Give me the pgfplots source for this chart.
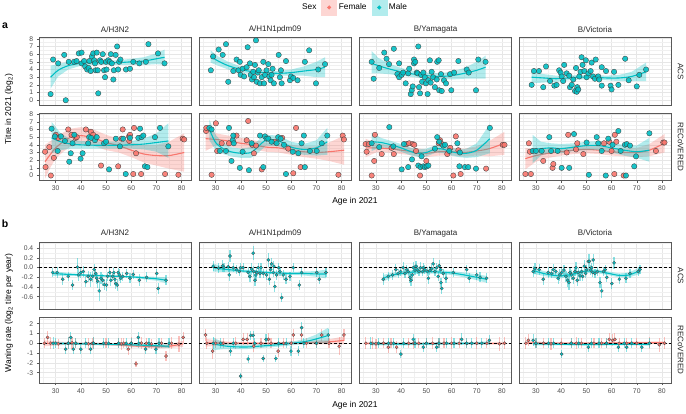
\documentclass[border=0pt]{standalone}
\usepackage{fontspec}
\setmainfont{Liberation Sans}
\usepackage{pgfplots}
\pgfplotsset{compat=1.18}
\definecolor{cF}{HTML}{F8766D}
\definecolor{cM}{HTML}{00BFC4}
\definecolor{gmaj}{HTML}{E6E6E6}
\definecolor{gmin}{HTML}{F0F0F0}
\pgfplotsset{
  panel/.style={scale only axis, width=152pt, xmin=23.4, xmax=83.7,
    xtick={30,40,50,60,70,80}, minor xtick={25,35,45,55,65,75},
    xmajorgrids, ymajorgrids, xminorgrids, yminorgrids,
    major grid style={draw=gmaj, line width=0.6pt},
    minor grid style={draw=gmin, line width=0.35pt},
    axis line style={draw=black!65, line width=0.6pt},
    tick align=outside, tickpos=left, major tick length=2.2pt, minor tick length=0pt,
    tick style={draw=black!65, line width=0.5pt},
    ticklabel style={font=\fontsize{6.8}{7.5}\selectfont, text=black!70},
    /pgf/number format/assume math mode=true, anchor=north west},
  rowA/.style={height=67.3pt, ymin=-0.62, ymax=8.14, ytick={0,1,2,3,4,5,6,7,8},
    minor ytick={0.5,1.5,2.5,3.5,4.5,5.5,6.5,7.5}},
  rowC/.style={height=66.3pt, ymin=-0.855, ymax=0.516, ytick={-0.6,-0.4,-0.2,0,0.2,0.4},
    minor ytick={-0.7,-0.5,-0.3,-0.1,0.1,0.3,0.5},
    yticklabel style={/pgf/number format/.cd, fixed, fixed zerofill, precision=1}},
  rowD/.style={height=66pt, ymin=-4.05, ymax=2.68, ytick={-3,-2,-1,0,1,2},
    minor ytick={-3.5,-2.5,-1.5,-0.5,0.5,1.5,2.5}},
  nox/.style={xticklabels={}, xtick style={draw=none}},
  noy/.style={yticklabels={}, ytick style={draw=none}},
  pA/.style={only marks, mark=*, mark size=2.7pt, mark options={fill=#1, draw=black!75, line width=0.35pt, fill opacity=0.9}},
  pB/.style={#1, only marks, mark=*, mark size=1.6pt, mark options={fill=#1, draw=black!70, line width=0.3pt},
    error bars/.cd, y dir=both, y explicit, error mark=none, error bar style={draw=#1, line width=1.2pt, opacity=0.45}},
  rib/.style={fill=#1, fill opacity=0.3, draw=none},
  sm/.style={#1, line width=1.1pt, smooth, no marks},
  zero/.style={black, dashed, line width=0.6pt, dash pattern=on 3pt off 2pt, no marks},
}
\begin{document}
\begin{tikzpicture}
\useasboundingbox (0,0) rectangle (686pt,-413pt);
% ---------------- Row 1 : ACS titres ----------------
\begin{axis}[panel, rowA, nox, at={(39pt,-37.7pt)},
  legend style={at={(2.076,1.449)}, anchor=center, draw=none, fill=none, legend columns=-1,
    font=\fontsize{8.3}{9}\selectfont, /tikz/every even column/.append style={column sep=3pt}}]
\addlegendimage{empty legend}\addlegendentry{Sex}
\addlegendimage{legend image code/.code={\fill[cF!30] (0pt,-7.5pt) rectangle (15pt,7.5pt); \fill[cF] (7.5pt,0pt) circle (1.8pt);}}\addlegendentry{Female}
\addlegendimage{legend image code/.code={\fill[cM!30] (0pt,-7.5pt) rectangle (15pt,7.5pt); \fill[cM] (7.5pt,0pt) circle (1.8pt);}}\addlegendentry{Male}
\addplot[pA=cM] coordinates {(28,0.8)(29,5.3)(31,4.8)(33.4,5.9)(34,0)(35.2,5.0)(37.3,5.0)(38.3,5.1)(39.2,6.1)(40.3,6.2)(40.3,4.8)(41.3,5.1)(41.7,4.4)(42.5,4.0)(43.1,4.2)(43.4,5.1)(43.9,3.8)(44.4,5.7)(44.9,6.1)(45.3,5.2)(45.6,4.8)(45.9,3.9)(46.3,6.2)(46.7,3.9)(46.9,0.9)(47.6,5.2)(48.1,5.0)(48.7,6.0)(49.2,3.9)(49.6,3.0)(50,5.0)(50.2,4.0)(50.9,5.2)(51.5,5.0)(51.9,6.0)(52.3,4.8)(52.9,2.7)(53.1,3.9)(53.8,5.9)(54.4,7.0)(54.8,4.0)(55.2,5.0)(55.7,5.3)(57.9,4.0)(59.5,4.1)(60.8,5.0)(63.2,4.8)(65.8,5.0)(66.8,7.3)(70.6,6.1)(73.2,4.8)};
\addplot[rib=cM] coordinates {(28,4.5)(31,4.7)(35,5.0)(40,5.1)(45,5.2)(50,5.2)(55,5.2)(60,5.4)(65,5.6)(70,6.1)(73.2,6.6)(73.2,4.6)(70,4.7)(65,4.6)(60,4.6)(55,4.6)(50,4.6)(45,4.6)(40,4.5)(35,4.0)(31,3.1)(28,1.5)} -- cycle;
\addplot[sm=cM] coordinates {(28,3.0)(31,3.9)(35,4.5)(40,4.8)(45,4.9)(50,4.9)(55,4.9)(60,5.0)(65,5.1)(70,5.4)(73.2,5.6)};
\end{axis}
\begin{axis}[panel, rowA, nox, noy, at={(199pt,-37.7pt)}]
\addplot[pA=cM] coordinates {(28.1,3.9)(29,5.7)(31.2,6.6)(32.8,5.9)(34.1,7.3)(35,2.4)(37,3.8)(38.3,5.3)(39.1,3.9)(39.6,5.0)(39.9,3.3)(40.7,4.1)(41.3,3.1)(42.3,4.3)(42.7,6.9)(43.6,4.8)(43.9,3.3)(44.4,2.7)(44.9,3.7)(45.2,3.0)(45.6,4.6)(46,7.8)(46.3,2.4)(46.7,3.6)(47.1,3.9)(47.6,2.2)(48.3,3.0)(48.9,5.0)(49.2,2.2)(49.6,3.3)(50.2,3.9)(50.9,4.7)(51.3,3.1)(51.8,2.6)(52.2,3.3)(52.6,4.1)(53.1,2.2)(55,5.9)(55.5,3.0)(55.9,3.9)(56.2,2.2)(57.9,5.1)(59.5,2.6)(59.9,3.1)(60.8,2.9)(62.5,2.6)(65.4,5.0)(67.1,6.5)(69.8,2.2)(70.7,4.0)(73.4,4.7)};
\addplot[rib=cM] coordinates {(28,6.5)(31,5.7)(35,5.0)(40,4.4)(45,4.0)(50,3.9)(55,3.8)(60,4.0)(65,4.4)(70,5.0)(73.4,5.6)(73.4,3.0)(70,3.0)(65,3.2)(60,3.2)(55,3.2)(50,3.3)(45,3.4)(40,3.6)(35,4.0)(31,4.5)(28,4.9)} -- cycle;
\addplot[sm=cM] coordinates {(28,5.7)(31,5.1)(35,4.5)(40,4.0)(45,3.7)(50,3.6)(55,3.5)(60,3.6)(65,3.8)(70,4.0)(73.4,4.3)};
\end{axis}
\begin{axis}[panel, rowA, nox, noy, at={(359.3pt,-37.7pt)}]
\addplot[pA=cM] coordinates {(28.3,5.0)(29.1,2.8)(31.3,4.2)(33.3,6.2)(34.2,5.4)(35.2,4.7)(37.1,6.7)(38.5,3.4)(39.2,4.8)(39.2,3.0)(40.2,3.3)(40.8,3.6)(41.8,2.2)(42.8,3.5)(43.2,4.1)(43.8,0.8)(44.2,1.3)(44.6,1.8)(45.1,5.3)(45.1,4.8)(45.6,5.0)(46.2,3.6)(46.5,3.5)(46.8,7.0)(47.1,1.7)(47.5,0.9)(47.9,3.3)(48.3,2.4)(48.8,3.6)(49.4,3.0)(49.8,2.2)(50.5,0.8)(50.8,2.6)(51.4,5.2)(51.7,2.3)(52.1,3.7)(52.7,3.0)(53.4,1.7)(54.1,2.7)(54.3,5.0)(54.9,5.2)(55.1,1.3)(55.8,3.4)(56.1,1.2)(57,2.6)(57.8,2.2)(59.4,3.4)(59.9,1.3)(61,3.6)(62.7,5.1)(66,4.0)(66.8,3.6)(69.7,1.3)(70.6,5.3)(73.5,5.0)};
\addplot[rib=cM] coordinates {(28.3,6.4)(31,5.5)(35,4.8)(40,4.2)(45,3.8)(50,3.6)(55,3.5)(60,3.7)(65,4.2)(70,5.0)(73.5,5.8)(73.5,2.8)(70,2.8)(65,2.8)(60,2.7)(55,2.7)(50,2.8)(45,3.0)(40,3.2)(35,3.4)(31,3.5)(28.3,3.5)} -- cycle;
\addplot[sm=cM] coordinates {(28.3,4.8)(31,4.5)(35,4.1)(40,3.7)(45,3.4)(50,3.2)(55,3.1)(60,3.2)(65,3.5)(70,3.9)(73.5,4.3)};
\end{axis}
\begin{axis}[panel, rowA, nox, noy, at={(519.3pt,-37.7pt)}]
\addplot[pA=cM] coordinates {(28.3,2.0)(29.2,3.8)(31.2,3.8)(32.9,1.7)(34,4.4)(35.6,2.5)(37.3,1.9)(38.2,2.0)(39.2,3.9)(39.8,3.6)(40.2,3.1)(40.8,2.5)(41.2,4.6)(42.2,3.5)(43.2,3.2)(43.5,1.7)(44.2,2.0)(44.8,2.7)(45.5,1.2)(45.9,4.2)(46.2,1.1)(46.4,1.7)(46.8,1.4)(47.2,3.1)(47.7,3.7)(48.1,5.6)(48.5,4.6)(49.2,3.8)(49.8,5.2)(50.1,3.0)(50.8,3.5)(51.7,3.8)(52.1,4.9)(52.7,3.1)(53.4,2.8)(53.7,5.3)(54.7,3.1)(55.1,2.7)(56.1,4.3)(56.1,1.9)(57.8,3.8)(59.6,1.9)(60,1.4)(61,3.7)(62.7,2.0)(65.4,5.4)(66.8,2.6)(70,1.8)(71,3.3)(73.7,4.0)};
\addplot[rib=cM] coordinates {(28.3,3.8)(33,3.4)(38,3.2)(43,3.2)(48,3.3)(53,3.3)(58,3.2)(63,3.3)(68,3.7)(73.7,4.9)(73.7,2.5)(68,2.5)(63,2.5)(58,2.6)(53,2.7)(48,2.7)(43,2.6)(38,2.4)(33,2.3)(28.3,2.2)} -- cycle;
\addplot[sm=cM] coordinates {(28.3,3.0)(33,2.9)(38,2.8)(43,2.9)(48,3.0)(53,3.0)(58,2.9)(63,2.9)(68,3.1)(73.7,3.7)};
\end{axis}
% ---------------- Row 2 : RECoVERED titres ----------------
\begin{axis}[panel, rowA, at={(39pt,-113pt)}]
\addplot[pA=cF] coordinates {(26,1.1)(25.8,3.1)(27.5,3.7)(28.1,0)(29.3,2.3)(30.1,5.3)(31,4.9)(35,6.0)(36.3,5.3)(37.9,4.9)(38.4,5.0)(42,6.0)(44,5.7)(44.9,5.3)(48,1.3)(54.8,1.2)(56.2,4.8)(56.6,6.0)(59.1,5.1)(59.2,4.5)(59.5,5.3)(60.8,0.2)(61.1,6.2)(61.9,2.9)(63.9,0.2)(73.4,0.2)(78.7,0.1)(80.4,4.8)(81,4.7)};
\addplot[pA=cM] coordinates {(28.4,6.1)(29.7,5.1)(30.8,3.2)(32.1,5.1)(33.7,4.5)(35.4,1.8)(36,2.9)(36.7,4.2)(37.4,5.3)(39.9,2.2)(40.7,2.9)(42.9,4.2)(43.3,5.0)(44.1,4.9)(45.6,4.6)(46.3,5.0)(49.2,4.2)(50,4.4)(51.2,0.8)(53.9,4.8)(55.5,3.8)(56.8,4.8)(57.8,0.2)(59.5,4.9)(62.8,4.9)(63.5,6.1)(64.1,5.0)(64.8,5.2)(65.4,1.2)(66.4,1.1)(69.4,5.0)(71.4,6.2)(74.7,3.8)};
\addplot[rib=cF] coordinates {(25.8,4.0)(28,4.5)(30,5.0)(33,5.6)(36,6.1)(40,6.3)(45,6.0)(50,5.3)(55,4.8)(60,4.3)(65,4.0)(70,4.0)(75,4.4)(81,5.5)(81,0.5)(75,0.9)(70,1.3)(65,1.7)(60,2.4)(55,3.0)(50,3.3)(45,3.9)(40,4.1)(36,3.8)(33,3.1)(30,2.2)(28,1.1)(25.8,-0.4)} -- cycle;
\addplot[sm=cF] coordinates {(25.8,1.8)(28,2.8)(30,3.6)(33,4.4)(36,5.0)(40,5.2)(45,4.9)(50,4.3)(55,3.9)(60,3.3)(65,2.8)(70,2.6)(75,2.6)(81,3.0)};
\addplot[rib=cM] coordinates {(28.4,7.0)(32,5.5)(36,4.7)(40,4.5)(45,4.4)(50,4.4)(55,4.4)(60,4.5)(65,4.8)(70,5.5)(74.7,6.8)(74.7,2.3)(70,3.1)(65,3.4)(60,3.5)(55,3.5)(50,3.5)(45,3.5)(40,3.5)(36,3.5)(32,3.3)(28.4,2.9)} -- cycle;
\addplot[sm=cM] coordinates {(28.4,4.9)(32,4.4)(36,4.1)(40,4.0)(45,3.95)(50,3.95)(55,3.95)(60,4.0)(65,4.1)(70,4.3)(74.7,4.5)};
\end{axis}
\begin{axis}[panel, rowA, noy, at={(199pt,-113pt)}]
\addplot[pA=cF] coordinates {(26.2,5.8)(26.3,6.2)(28.4,0.1)(30.1,6.8)(30.6,3.2)(32.4,4.2)(35.3,4.2)(38.3,5.2)(42.3,4.6)(42.9,7.1)(44.5,4.0)(45.2,2.9)(46,3.9)(48.3,0.8)(53.5,4.4)(56.4,4.9)(58.8,3.5)(60.8,0.3)(61.9,6.2)(63.7,1.1)(78.7,0.1)(80.4,5.2)(80.9,4.7)};
\addplot[pA=cM] coordinates {(27.5,6.2)(28.4,6.0)(31.7,3.2)(34.1,3.2)(35.3,6.2)(36.3,1.9)(36.8,4.6)(37,5.2)(37.2,4.2)(39.6,1.0)(40.7,3.1)(43.2,0.7)(44.3,4.2)(47.6,5.2)(48.9,1.1)(49.6,5.1)(50.2,4.8)(50.9,4.8)(52.2,4.4)(54.2,4.2)(54.8,5.0)(55.8,4.8)(57.1,4.0)(57.9,0.2)(60.6,3.1)(62.8,2.9)(64.1,4.2)(65,5.2)(65.4,1.1)(67.4,3.2)(70.1,3.2)(72.1,4.2)(74.3,5.2)};
\addplot[rib=cF] coordinates {(26,6.3)(30,5.5)(35,5.2)(40,4.9)(45,4.6)(50,4.3)(55,4.2)(60,4.0)(65,3.8)(70,3.8)(75,4.3)(81,5.2)(81,1.4)(75,1.9)(70,2.2)(65,2.4)(60,2.7)(55,3.0)(50,3.1)(45,3.4)(40,3.5)(35,3.8)(30,3.9)(26,3.2)} -- cycle;
\addplot[sm=cF] coordinates {(26,4.8)(30,4.7)(35,4.5)(40,4.2)(45,4.0)(50,3.7)(55,3.6)(60,3.3)(65,3.1)(70,3.0)(75,3.1)(81,3.3)};
\addplot[rib=cM] coordinates {(27.5,7.3)(30,5.3)(33,4.2)(36,3.7)(40,3.5)(44,3.7)(47,4.6)(50,5.3)(55,5.2)(60,4.4)(65,4.1)(70,4.6)(74.3,6.2)(74.3,2.7)(70,2.6)(65,2.7)(60,3.0)(55,3.8)(50,3.9)(47,3.0)(44,2.3)(40,2.3)(36,2.5)(33,2.8)(30,3.3)(27.5,4.6)} -- cycle;
\addplot[sm=cM] coordinates {(27.5,6.0)(30,4.3)(33,3.5)(36,3.1)(40,2.9)(44,3.0)(47,3.8)(50,4.6)(55,4.5)(60,3.7)(65,3.4)(70,3.6)(74.3,4.4)};
\end{axis}
\begin{axis}[panel, rowA, noy, at={(359.3pt,-113pt)}]
\addplot[pA=cF] coordinates {(25.9,4.1)(26.3,3.1)(27.2,4.1)(28.3,0)(29.3,1.9)(29.6,5.3)(32.3,2.8)(36.2,3.6)(37.1,2.8)(42.2,4.1)(43.2,4.2)(44.6,4.1)(45.2,4.0)(45.9,3.2)(47.5,0)(50,1.9)(54.9,4.2)(55.4,4.6)(56.1,4.1)(58.3,2.8)(59.5,3.6)(60.7,0)(61.7,5.1)(62.7,3.3)(63.6,0.2)(73.7,0.9)(80.3,4.0)(81,4.0)};
\addplot[pA=cM] coordinates {(28.3,4.2)(31.3,3.7)(35.3,6.3)(36.9,3.8)(40.2,0.8)(41.1,4.1)(42.8,1.1)(44.3,2.1)(46.8,1.3)(47.7,1.1)(48.1,2.5)(48.8,1.2)(49.4,1.1)(50.1,1.2)(50.8,1.3)(53.4,3.5)(54.3,5.0)(55.1,4.4)(56.7,3.9)(57.4,4.0)(59.1,3.2)(62.3,4.2)(63.1,1.2)(63.3,3.0)(65.3,1.1)(66.6,1.1)(69.7,0.9)(75.2,6.2)};
\addplot[rib=cF] coordinates {(25.9,4.8)(30,4.2)(35,4.0)(40,3.8)(45,3.6)(50,3.4)(55,3.6)(60,3.6)(65,3.5)(70,3.8)(75,4.5)(81,5.7)(81,2.7)(75,2.5)(70,2.6)(65,2.5)(60,2.6)(55,2.6)(50,2.4)(45,2.6)(40,2.8)(35,3.0)(30,3.0)(25.9,2.4)} -- cycle;
\addplot[sm=cF] coordinates {(25.9,3.6)(30,3.6)(35,3.5)(40,3.3)(45,3.1)(50,2.9)(55,3.1)(60,3.1)(65,3.0)(70,3.2)(75,3.5)(81,4.2)};
\addplot[rib=cM] coordinates {(28.3,5.6)(32,4.9)(36,4.5)(40,4.1)(44,3.6)(47,3.4)(50,3.5)(54,4.0)(57,3.9)(60,3.6)(63,3.4)(66,3.5)(70,4.2)(75.2,6.7)(75.2,2.9)(70,2.4)(66,2.3)(63,2.4)(60,2.6)(57,2.9)(54,3.0)(50,2.5)(47,2.4)(44,2.6)(40,3.1)(36,3.5)(32,3.7)(28.3,3.2)} -- cycle;
\addplot[sm=cM] coordinates {(28.3,4.4)(32,4.3)(36,4.0)(40,3.6)(44,3.1)(47,2.9)(50,3.0)(54,3.5)(57,3.4)(60,3.1)(63,2.9)(66,2.9)(70,3.3)(75.2,4.8)};
\end{axis}
\begin{axis}[panel, rowA, noy, at={(519.3pt,-113pt)}]
\addplot[pA=cF] coordinates {(25.8,0.2)(27.2,4.2)(27.6,3.1)(28,0.2)(32.9,1.9)(36.6,1.0)(36.9,1.5)(42.2,3.0)(42.8,5.3)(45.9,3.4)(46.4,4.2)(48.8,2.8)(57,4.2)(59.1,4.4)(60,3.2)(61.1,0.2)(61.3,5.3)(61.9,4.4)(64.8,0.0)(77.6,3.2)(80.5,4.3)(81,4.3)};
\addplot[pA=cM] coordinates {(28.7,3.2)(30,3.2)(32.3,3.2)(35.3,5.0)(36,3.2)(38.6,3.2)(40.2,1.0)(43.2,1.0)(45.1,5.4)(50.1,4.3)(51,0.1)(54.1,5.0)(54.7,4.2)(56.1,3.2)(57.7,0)(58.7,4.8)(60.4,4.0)(62.7,5.8)(63.6,3.2)(65.3,4.0)(65.7,0)(66,4.1)(67.3,3.9)(69,1.2)(69.7,2.5)(75,5.5)};
\addplot[rib=cF] coordinates {(25.8,3.6)(30,3.4)(35,3.5)(40,3.6)(45,3.8)(50,3.9)(55,3.8)(60,3.6)(65,3.5)(70,3.6)(75,4.1)(81,5.4)(81,3.0)(75,2.5)(70,2.4)(65,2.5)(60,2.6)(55,2.8)(50,2.9)(45,2.8)(40,2.6)(35,2.3)(30,1.8)(25.8,0.8)} -- cycle;
\addplot[sm=cF] coordinates {(25.8,2.2)(30,2.6)(35,2.9)(40,3.1)(45,3.3)(50,3.4)(55,3.3)(60,3.1)(65,3.0)(70,3.0)(75,3.3)(81,4.2)};
\addplot[rib=cM] coordinates {(28.7,5.3)(32,4.4)(36,4.2)(40,4.1)(45,4.2)(50,4.4)(55,4.5)(60,4.2)(65,4.0)(70,3.9)(75,4.9)(75,1.8)(70,2.3)(65,2.6)(60,3.0)(55,3.3)(50,3.3)(45,3.2)(40,2.9)(36,3.0)(32,2.6)(28.7,1.6)} -- cycle;
\addplot[sm=cM] coordinates {(28.7,3.4)(32,3.5)(36,3.6)(40,3.5)(45,3.7)(50,3.9)(55,3.9)(60,3.6)(65,3.3)(70,3.1)(75,3.3)};
\end{axis}
% ---------------- Row 3 : ACS waning ----------------
\begin{axis}[panel, rowC, nox, at={(39pt,-242.7pt)}]
\addplot[pB=cM] table[row sep=\\, y error=e] {x y e\\ 28.8 -0.10 0.10\\ 30.6 -0.10 0.12\\ 32.8 -0.24 0.12\\ 35 -0.18 0.10\\ 36.7 -0.36 0.10\\ 38.7 0.01 0.20\\ 39.2 -0.15 0.12\\ 40 -0.10 0.12\\ 41 -0.08 0.12\\ 42 -0.29 0.12\\ 42.9 -0.18 0.12\\ 43.9 -0.24 0.15\\ 44.7 -0.18 0.12\\ 45.3 -0.04 0.12\\ 45.9 -0.12 0.10\\ 46.3 -0.22 0.12\\ 46.7 -0.28 0.15\\ 47.3 -0.48 0.20\\ 48 -0.22 0.12\\ 48.7 -0.26 0.12\\ 49.3 -0.35 0.12\\ 50.2 -0.36 0.12\\ 50.6 -0.18 0.10\\ 51.5 -0.10 0.10\\ 51.9 -0.26 0.12\\ 52.6 -0.18 0.10\\ 53.1 -0.10 0.10\\ 53.5 -0.24 0.12\\ 53.9 -0.33 0.12\\ 54.4 -0.36 0.12\\ 54.8 -0.10 0.10\\ 55.2 -0.15 0.12\\ 55.8 -0.22 0.10\\ 56.6 -0.18 0.10\\ 58.2 -0.12 0.10\\ 59.5 -0.22 0.10\\ 60.8 -0.14 0.10\\ 63.2 -0.26 0.12\\ 66.1 -0.20 0.10\\ 70.1 -0.12 0.10\\ 70.7 -0.43 0.12\\ 73.8 -0.26 0.10\\};
\addplot[rib=cM] coordinates {(28.8,-0.07)(35,-0.11)(40,-0.13)(45,-0.14)(50,-0.15)(55,-0.16)(60,-0.17)(65,-0.18)(70,-0.19)(73.8,-0.20)(73.8,-0.32)(70,-0.27)(65,-0.24)(60,-0.21)(55,-0.20)(50,-0.19)(45,-0.18)(40,-0.17)(35,-0.17)(28.8,-0.17)} -- cycle;
\addplot[sm=cM] coordinates {(28.8,-0.12)(35,-0.14)(40,-0.15)(45,-0.16)(50,-0.17)(55,-0.18)(60,-0.19)(65,-0.21)(70,-0.23)(73.8,-0.26)};
\addplot[zero] coordinates {(23.4,0)(83.7,0)};
\end{axis}
\begin{axis}[panel, rowC, nox, noy, at={(199pt,-242.7pt)}]
\addplot[pB=cM] table[row sep=\\, y error=e] {x y e\\ 29 0.03 0.10\\ 31.2 -0.01 0.10\\ 32.8 0.04 0.12\\ 33.3 0.0 0.10\\ 35 0.02 0.10\\ 35.4 -0.15 0.12\\ 35.7 0.24 0.12\\ 37 0.0 0.10\\ 38.3 -0.04 0.10\\ 39.4 -0.08 0.10\\ 39.9 0.0 0.10\\ 40.9 0.0 0.10\\ 42.9 -0.10 0.12\\ 43.6 -0.18 0.12\\ 44.3 -0.03 0.12\\ 44.9 0.30 0.15\\ 45.1 -0.08 0.12\\ 45.6 -0.26 0.12\\ 46 -0.15 0.10\\ 46.3 -0.10 0.10\\ 46.9 0.0 0.10\\ 47.6 -0.12 0.10\\ 48 0.0 0.10\\ 48.9 -0.12 0.10\\ 50.2 -0.15 0.10\\ 50.9 0.16 0.15\\ 51.3 -0.24 0.12\\ 51.8 -0.04 0.10\\ 52.2 0.08 0.12\\ 52.9 -0.10 0.10\\ 53.1 0.03 0.10\\ 53.5 -0.39 0.12\\ 54.2 -0.15 0.10\\ 55 0.0 0.10\\ 55.5 -0.08 0.10\\ 56.2 -0.62 0.10\\ 56.8 -0.15 0.10\\ 57.9 -0.24 0.10\\ 59.5 -0.18 0.10\\ 60.8 0.0 0.10\\ 63.2 -0.36 0.10\\ 64.1 -0.10 0.10\\ 70.1 -0.10 0.10\\ 71.1 -0.24 0.10\\ 73.8 -0.10 0.10\\};
\addplot[rib=cM] coordinates {(29,0.08)(33,0.03)(37,-0.01)(41,-0.04)(45,-0.05)(50,-0.07)(55,-0.08)(60,-0.09)(65,-0.08)(70,-0.07)(73.8,-0.04)(73.8,-0.22)(70,-0.19)(65,-0.16)(60,-0.15)(55,-0.14)(50,-0.13)(45,-0.11)(41,-0.10)(37,-0.09)(33,-0.09)(29,-0.08)} -- cycle;
\addplot[sm=cM] coordinates {(29,0.0)(33,-0.03)(37,-0.05)(41,-0.07)(45,-0.08)(50,-0.10)(55,-0.11)(60,-0.12)(65,-0.12)(70,-0.13)(73.8,-0.13)};
\addplot[zero] coordinates {(23.4,0)(83.7,0)};
\end{axis}
\begin{axis}[panel, rowC, nox, noy, at={(359.3pt,-242.7pt)}]
\addplot[pB=cM] table[row sep=\\, y error=e] {x y e\\ 32.9 -0.24 0.12\\ 34.9 -0.18 0.10\\ 36.6 -0.15 0.10\\ 37.9 -0.04 0.12\\ 38.8 -0.12 0.10\\ 39.8 -0.08 0.10\\ 40.8 0.0 0.12\\ 41.5 -0.12 0.10\\ 42.2 -0.04 0.10\\ 42.8 -0.08 0.10\\ 43.5 -0.20 0.12\\ 43.9 -0.26 0.12\\ 44.4 -0.15 0.10\\ 44.8 0.0 0.12\\ 45.5 -0.05 0.10\\ 45.9 0.03 0.10\\ 46.4 -0.04 0.10\\ 47.1 -0.08 0.10\\ 47.7 0.0 0.12\\ 48.5 -0.08 0.10\\ 48.8 0.0 0.10\\ 49.4 -0.04 0.10\\ 50.4 -0.08 0.10\\ 50.8 -0.22 0.12\\ 51.4 -0.06 0.10\\ 52.1 -0.02 0.10\\ 52.7 0.08 0.12\\ 53.4 -0.08 0.10\\ 54.1 0.0 0.10\\ 54.7 -0.18 0.10\\ 55.1 0.04 0.12\\ 55.7 -0.04 0.10\\ 55.8 -0.31 0.10\\ 56.1 -0.43 0.12\\ 56.7 -0.12 0.10\\ 57.8 -0.22 0.10\\ 60.7 -0.10 0.10\\ 66 -0.04 0.10\\ 67 -0.22 0.10\\ 70 -0.15 0.10\\ 71.3 -0.20 0.10\\ 73.9 -0.22 0.10\\};
\addplot[rib=cM] coordinates {(32.9,-0.15)(36,-0.11)(40,-0.08)(45,-0.05)(50,-0.04)(55,-0.05)(60,-0.07)(65,-0.10)(70,-0.14)(73.9,-0.17)(73.9,-0.31)(70,-0.26)(65,-0.20)(60,-0.15)(55,-0.13)(50,-0.12)(45,-0.13)(40,-0.16)(36,-0.21)(32.9,-0.29)} -- cycle;
\addplot[sm=cM] coordinates {(32.9,-0.22)(36,-0.16)(40,-0.12)(45,-0.09)(50,-0.08)(55,-0.09)(60,-0.11)(65,-0.15)(70,-0.20)(73.9,-0.24)};
\addplot[zero] coordinates {(23.4,0)(83.7,0)};
\end{axis}
\begin{axis}[panel, rowC, nox, noy, at={(519.3pt,-242.7pt)}]
\addplot[pB=cM] table[row sep=\\, y error=e] {x y e\\ 28.9 -0.08 0.12\\ 29.6 -0.02 0.12\\ 31.3 -0.04 0.12\\ 32.9 -0.24 0.12\\ 34.9 -0.10 0.12\\ 36.2 -0.12 0.10\\ 36.9 -0.04 0.12\\ 37.9 -0.08 0.10\\ 38.8 -0.22 0.12\\ 39.5 -0.15 0.12\\ 40.2 -0.10 0.10\\ 41.1 -0.05 0.10\\ 41.9 -0.18 0.12\\ 42.6 -0.26 0.15\\ 43.1 -0.31 0.15\\ 43.5 -0.10 0.10\\ 44.2 -0.15 0.10\\ 44.8 -0.22 0.12\\ 45.5 -0.08 0.10\\ 45.9 0.0 0.12\\ 46.4 -0.26 0.12\\ 46.8 -0.10 0.10\\ 47.5 -0.17 0.10\\ 48.1 -0.08 0.10\\ 48.5 -0.18 0.10\\ 49.2 0.03 0.12\\ 49.7 -0.12 0.10\\ 50.1 -0.04 0.10\\ 50.8 0.13 0.15\\ 51.2 0.13 0.15\\ 51.7 -0.05 0.10\\ 52.1 0.0 0.10\\ 52.5 -0.10 0.10\\ 52.7 0.16 0.12\\ 53.4 -0.12 0.10\\ 54.4 -0.08 0.10\\ 55.4 -0.31 0.12\\ 56.1 -0.48 0.15\\ 56.8 -0.08 0.10\\ 57.5 -0.04 0.10\\ 58.1 -0.20 0.10\\ 60.1 -0.33 0.12\\ 61 0.10 0.12\\ 63.1 -0.24 0.10\\ 65.7 -0.22 0.10\\ 67.3 -0.12 0.10\\ 70.6 -0.08 0.10\\ 71.3 -0.04 0.10\\};
\addplot[rib=cM] coordinates {(28.9,0.01)(33,-0.07)(37,-0.11)(40,-0.12)(44,-0.10)(48,-0.05)(51,-0.03)(55,-0.04)(59,-0.08)(63,-0.12)(67,-0.10)(71.3,0.01)(71.3,-0.13)(67,-0.20)(63,-0.20)(59,-0.16)(55,-0.12)(51,-0.11)(48,-0.13)(44,-0.18)(40,-0.22)(37,-0.21)(33,-0.17)(28.9,-0.13)} -- cycle;
\addplot[sm=cM] coordinates {(28.9,-0.06)(33,-0.12)(37,-0.16)(40,-0.17)(44,-0.14)(48,-0.09)(51,-0.07)(55,-0.08)(59,-0.12)(63,-0.16)(67,-0.15)(71.3,-0.06)};
\addplot[zero] coordinates {(23.4,0)(83.7,0)};
\end{axis}
% ---------------- Row 4 : RECoVERED waning ----------------
\begin{axis}[panel, rowD, at={(39pt,-317pt)}]
\addplot[pB=cF] table[row sep=\\, y error=e] {x y e\\ 25.5 0 0.5\\ 26.8 0.6 0.7\\ 28 0.0 0.6\\ 31 -0.05 0.5\\ 35 0 0.6\\ 36.5 0.05 0.6\\ 38 0 0.5\\ 43 -0.05 0.6\\ 44.5 0 0.5\\ 45 0.02 0.6\\ 50 0 0.5\\ 55 0 0.5\\ 56 -0.05 0.6\\ 57 0 0.5\\ 58.8 -0.6 0.6\\ 60 0 0.6\\ 61.9 -2.1 0.3\\ 64 0.02 0.6\\ 66 0 0.5\\ 68 -0.05 0.5\\ 72 0 0.5\\ 73.8 -1.3 0.5\\ 76 0 0.6\\ 78.9 -0.1 0.8\\ 80.6 0.6 0.6\\};
\addplot[pB=cM] table[row sep=\\, y error=e] {x y e\\ 29 0 0.6\\ 30 0 0.5\\ 34 -0.6 0.5\\ 35 0 0.6\\ 36 0.6 0.6\\ 37 -0.6 0.5\\ 38 0 0.5\\ 40 -0.6 0.5\\ 42 0 0.5\\ 43.9 -0.6 0.5\\ 45 0 0.6\\ 49 0 0.5\\ 51 0 0.5\\ 55 0 0.5\\ 58 0 0.5\\ 60 0 0.5\\ 62.8 0.6 0.6\\ 63 0 0.5\\ 65.7 -0.6 0.5\\ 67 0 0.5\\ 69.8 -0.6 0.5\\ 71 0 0.5\\ 75 0 0.5\\};
\addplot[rib=cF] coordinates {(25.5,0.3)(35,0.12)(45,0.08)(55,-0.02)(60,-0.1)(65,-0.15)(70,-0.18)(75,-0.1)(80.6,0.25)(80.6,-0.35)(75,-0.5)(70,-0.52)(65,-0.45)(60,-0.4)(55,-0.28)(45,-0.18)(35,-0.16)(25.5,-0.3)} -- cycle;
\addplot[sm=cF] coordinates {(25.5,0.0)(35,-0.02)(45,-0.05)(55,-0.15)(60,-0.25)(65,-0.3)(70,-0.35)(75,-0.3)(80.6,-0.05)};
\addplot[rib=cM] coordinates {(29,0.15)(35,0.09)(45,0.05)(55,-0.01)(60,-0.03)(65,-0.07)(70,-0.1)(75,-0.12)(75,-0.48)(70,-0.4)(65,-0.33)(60,-0.27)(55,-0.23)(45,-0.19)(35,-0.15)(29,-0.15)} -- cycle;
\addplot[sm=cM] coordinates {(29,0)(35,-0.03)(45,-0.07)(55,-0.12)(60,-0.15)(65,-0.2)(70,-0.25)(75,-0.3)};
\addplot[zero] coordinates {(23.4,0)(83.7,0)};
\end{axis}
\begin{axis}[panel, rowD, noy, at={(199pt,-317pt)}]
\addplot[pB=cF] table[row sep=\\, y error=e] {x y e\\ 26 0.85 0.6\\ 26.5 0 0.6\\ 28.8 -0.8 0.8\\ 30 0 0.5\\ 33 0 0.5\\ 38 0 0.6\\ 40.9 0.4 0.6\\ 42.5 0.4 0.6\\ 45.1 -0.3 0.6\\ 48 0 0.5\\ 50.9 0.4 0.6\\ 52 0 0.5\\ 54.8 -0.8 0.6\\ 57 0 0.5\\ 60 0 0.5\\ 60.8 0.85 0.6\\ 64.1 0.85 0.6\\ 66 0 0.5\\ 70 0 0.5\\ 72.1 0.85 0.6\\ 75 0 0.5\\ 79 -0.3 0.9\\ 80.9 0.85 0.6\\};
\addplot[pB=cM] table[row sep=\\, y error=e] {x y e\\ 29 0 0.6\\ 32 0 0.5\\ 35.9 -0.8 0.5\\ 37 0 0.5\\ 39.9 -3.35 0.3\\ 42.9 -1.6 0.4\\ 43.9 0.8 0.5\\ 44.9 0.8 0.5\\ 45.5 0 0.5\\ 48.9 -1.55 0.4\\ 50 0.4 0.5\\ 53.9 -1.55 0.4\\ 55 0 0.5\\ 58 0 0.5\\ 59.9 -0.8 0.5\\ 62.8 -0.8 0.5\\ 64.1 1.6 0.6\\ 65 0 0.5\\ 70 0 0.5\\ 74.7 0.85 0.6\\};
\addplot[rib=cF] coordinates {(26,0.45)(35,0.17)(45,0.13)(55,0.13)(65,0.2)(75,0.4)(80.9,0.7)(80.9,-0.1)(75,-0.1)(65,-0.1)(55,-0.13)(45,-0.13)(35,-0.13)(26,-0.35)} -- cycle;
\addplot[sm=cF] coordinates {(26,0.05)(35,0.02)(45,0.0)(55,0.0)(65,0.05)(75,0.15)(80.9,0.3)};
\addplot[rib=cM] coordinates {(29,0.6)(33,0.1)(37,-0.1)(42,-0.15)(47,-0.1)(52,0.0)(57,0.1)(62,0.25)(66,0.5)(70,0.9)(74.7,1.6)(74.7,0.0)(70,0.0)(66,-0.1)(62,-0.15)(57,-0.3)(52,-0.4)(47,-0.5)(42,-0.6)(37,-0.6)(33,-0.6)(29,-0.7)} -- cycle;
\addplot[sm=cM] coordinates {(29,-0.05)(33,-0.25)(37,-0.35)(42,-0.38)(47,-0.3)(52,-0.2)(57,-0.1)(62,0.05)(66,0.2)(70,0.45)(74.7,0.8)};
\addplot[zero] coordinates {(23.4,0)(83.7,0)};
\end{axis}
\begin{axis}[panel, rowD, noy, at={(359.3pt,-317pt)}]
\addplot[pB=cF] table[row sep=\\, y error=e] {x y e\\ 26 0 0.6\\ 28.5 0 0.6\\ 30 -0.05 0.5\\ 33 0 0.5\\ 34.9 -0.4 0.6\\ 36 0 0.5\\ 38.2 -0.4 0.6\\ 43 0 0.5\\ 45 0 0.6\\ 47 0 0.5\\ 50 0 0.5\\ 52.5 0 0.6\\ 55 0 0.5\\ 57 0 0.5\\ 60 0 0.6\\ 63 0 0.5\\ 66 0 0.5\\ 70 0 0.6\\ 74 0 0.5\\ 79 -0.05 0.7\\ 81 0 0.6\\};
\addplot[pB=cM] table[row sep=\\, y error=e] {x y e\\ 28 0 0.6\\ 31 0 0.5\\ 35 0 0.5\\ 37 0 0.5\\ 39.9 -1.1 0.4\\ 41 0 0.5\\ 44.8 0.4 0.5\\ 45.5 0 0.5\\ 48.8 -0.4 0.5\\ 50 0 0.5\\ 54.1 -0.4 0.5\\ 55 0 0.5\\ 58 0 0.5\\ 61 0 0.5\\ 64 0.4 0.6\\ 66 0 0.5\\ 68 0 0.5\\ 72 0 0.5\\ 75 0.3 0.5\\};
\addplot[rib=cF] coordinates {(26,0.15)(40,0.1)(55,0.1)(70,0.1)(81,0.15)(81,-0.15)(70,-0.1)(55,-0.1)(40,-0.1)(26,-0.15)} -- cycle;
\addplot[sm=cF] coordinates {(26,0)(40,0)(55,0)(70,0)(81,0)};
\addplot[rib=cM] coordinates {(28,0.12)(40,0.07)(50,0.08)(60,0.1)(70,0.13)(75,0.2)(75,-0.16)(70,-0.13)(60,-0.16)(50,-0.18)(40,-0.21)(28,-0.22)} -- cycle;
\addplot[sm=cM] coordinates {(28,-0.05)(40,-0.07)(50,-0.05)(60,-0.03)(70,0.0)(75,0.02)};
\addplot[zero] coordinates {(23.4,0)(83.7,0)};
\end{axis}
\begin{axis}[panel, rowD, noy, at={(519.3pt,-317pt)}]
\addplot[pB=cF] table[row sep=\\, y error=e] {x y e\\ 26 0 0.6\\ 27 0.3 0.6\\ 30 0 0.5\\ 33 0 0.5\\ 36 -0.05 0.6\\ 40 0 0.5\\ 44 0 0.5\\ 46 0 0.6\\ 48 0 0.5\\ 53 0 0.5\\ 56 0 0.5\\ 58 0 0.5\\ 59.1 0.4 0.6\\ 60.4 0.3 0.6\\ 61.3 0.4 0.6\\ 63 0 0.5\\ 66 0 0.5\\ 70 0 0.5\\ 75 0 0.6\\ 78.9 -0.15 0.7\\ 81 0 0.6\\};
\addplot[pB=cM] table[row sep=\\, y error=e] {x y e\\ 28.9 0.3 0.6\\ 30 0 0.5\\ 35 0 0.5\\ 37 0 0.5\\ 40.2 -1.1 0.4\\ 44 0 0.5\\ 47 0 0.5\\ 50.8 -0.4 0.5\\ 52 0 0.5\\ 55 0 0.5\\ 58 0 0.5\\ 62.7 -0.4 0.5\\ 65 0 0.5\\ 66 -0.4 0.5\\ 68 0 0.5\\ 72 -0.4 0.5\\ 75 0 0.5\\};
\addplot[rib=cF] coordinates {(26,0.2)(40,0.1)(55,0.12)(65,0.15)(81,0.2)(81,-0.1)(65,-0.05)(55,-0.08)(40,-0.1)(26,-0.1)} -- cycle;
\addplot[sm=cF] coordinates {(26,0.05)(40,0.0)(55,0.02)(65,0.05)(81,0.05)};
\addplot[rib=cM] coordinates {(28.9,0.1)(40,0.02)(50,0.0)(60,0.02)(70,0.02)(75,0.05)(75,-0.25)(70,-0.22)(60,-0.22)(50,-0.24)(40,-0.22)(28.9,-0.2)} -- cycle;
\addplot[sm=cM] coordinates {(28.9,-0.05)(40,-0.1)(50,-0.12)(60,-0.1)(70,-0.1)(75,-0.1)};
\addplot[zero] coordinates {(23.4,0)(83.7,0)};
\end{axis}
% ---------------- Labels ----------------
\begin{scope}[every node/.style={font=\fontsize{8}{9}\selectfont, text=black!85, inner sep=0pt}]
\node at (115pt,-29.5pt) {A/H3N2};
\node at (275pt,-29.5pt) {A/H1N1pdm09};
\node at (435.5pt,-29.5pt) {B/Yamagata};
\node at (595pt,-29.5pt) {B/Victoria};
\node at (115pt,-233pt) {A/H3N2};
\node at (275pt,-233pt) {A/H1N1pdm09};
\node at (435.5pt,-233pt) {B/Yamagata};
\node at (595pt,-233pt) {B/Victoria};
\node[rotate=-90] at (680.5pt,-71.4pt) {ACS};
\node[rotate=-90] at (680.5pt,-146.7pt) {RECoVERED};
\node[rotate=-90] at (680.5pt,-275.9pt) {ACS};
\node[rotate=-90] at (680.5pt,-350pt) {RECoVERED};
\end{scope}
\begin{scope}[every node/.style={font=\fontsize{8.5}{9.5}\selectfont, text=black, inner sep=0pt}]
\node[rotate=90] at (9pt,-109pt) {Titre in 2021 (log\textsubscript{2})};
\node[rotate=90] at (9pt,-313pt) {Waning rate (log\textsubscript{2} titre per year)};
\node at (355pt,-201pt) {Age in 2021};
\node at (355pt,-405pt) {Age in 2021};
\end{scope}
\node[font=\fontsize{10.5}{11}\selectfont\bfseries, inner sep=0pt] at (5pt,-25.5pt) {a};
\node[font=\fontsize{10.5}{11}\selectfont\bfseries, inner sep=0pt] at (5pt,-224pt) {b};
\end{tikzpicture}
\end{document}
